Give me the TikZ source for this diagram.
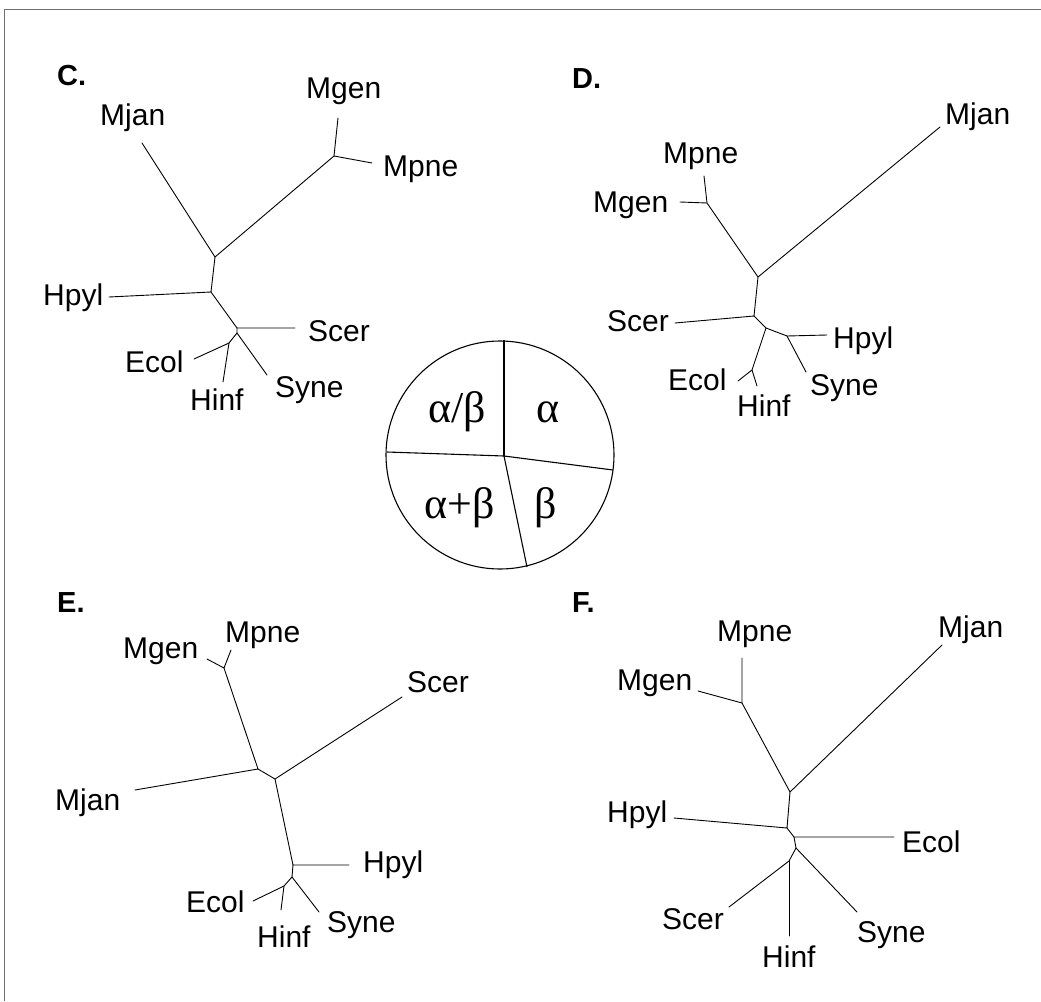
\documentclass[tikz,border=0pt]{standalone}
\usepackage{fontspec}
\newfontfamily\labelsans{Liberation Sans}
\newfontfamily\greekserif{Liberation Serif}
\definecolor{frameline}{RGB}{112,112,112}
\begin{document}
\begin{tikzpicture}[x=1pt,y=-1pt,
  branch/.style={line width=0.9pt, line cap=round, line join=round},
  taxon/.style={anchor=base west, inner sep=0pt, font=\labelsans\fontsize{30}{36}\selectfont},
  panel/.style={anchor=base west, inner sep=0pt, font=\labelsans\bfseries\fontsize{29}{34}\selectfont},
  fold/.style={anchor=base, inner sep=0pt, font=\greekserif\fontsize{44}{50}\selectfont},
  divider/.style={line width=1.1pt}]
\useasboundingbox (0,0) rectangle (1041,1001);
\fill[white] (0,0) rectangle (1041,1001);

% frame along the top and left edges
\coordinate (frBL) at (4.5,1001);
\coordinate (frTL) at (4.5,9.5);
\coordinate (frTR) at (1041,9.5);
\draw[frameline, line width=1.6pt] (frBL) -- (frTL) -- (frTR);

% ---------------- panel C ----------------
\node[panel] (pC) at (57,85) {C.};
\coordinate (cMjan) at (142,143);
\coordinate (cA) at (215,257);
\coordinate (cB) at (334,156);
\coordinate (cMgen) at (338,118);
\coordinate (cMpne) at (372,163);
\coordinate (cN2) at (211,292);
\coordinate (cHpyl) at (109,297);
\coordinate (cN3) at (237,328);
\coordinate (cScer) at (295,328);
\coordinate (cN4) at (237,333);
\coordinate (cSyne) at (267,375);
\coordinate (cN5) at (229,343);
\coordinate (cEcol) at (194,359);
\coordinate (cHinf) at (223,382);
\draw[branch] (cMjan) -- (cA) -- (cB) -- (cMgen);
\draw[branch] (cB) -- (cMpne);
\draw[branch] (cA) -- (cN2) -- (cHpyl);
\draw[branch] (cN2) -- (cN3) -- (cScer);
\draw[branch] (cN3) -- (cN4) -- (cSyne);
\draw[branch] (cN4) -- (cN5) -- (cEcol);
\draw[branch] (cN5) -- (cHinf);
\node[taxon] (cMjanL) at (100,125) {Mjan};
\node[taxon] (cMgenL) at (306,98) {Mgen};
\node[taxon] (cMpneL) at (383,176) {Mpne};
\node[taxon] (cHpylL) at (43,305) {Hpyl};
\node[taxon] (cScerL) at (308,341) {Scer};
\node[taxon] (cEcolL) at (125,372) {Ecol};
\node[taxon] (cHinfL) at (190,410) {Hinf};
\node[taxon] (cSyneL) at (275,397) {Syne};

% ---------------- panel D ----------------
\node[panel] (pD) at (572,88) {D.};
\coordinate (dMjan) at (940,127);
\coordinate (dR) at (758,277);
\coordinate (dM) at (707,203);
\coordinate (dMpne) at (704,176);
\coordinate (dMgen) at (680,202);
\coordinate (dN2) at (754,316);
\coordinate (dScer) at (675,323);
\coordinate (dN3) at (766,328);
\coordinate (dN4) at (787,336);
\coordinate (dHpyl) at (827,335);
\coordinate (dSyne) at (806,372);
\coordinate (dN5) at (752,370);
\coordinate (dEcol) at (738,381);
\coordinate (dHinf) at (757,386);
\draw[branch] (dMjan) -- (dR) -- (dM) -- (dMpne);
\draw[branch] (dM) -- (dMgen);
\draw[branch] (dR) -- (dN2) -- (dScer);
\draw[branch] (dN2) -- (dN3) -- (dN4) -- (dHpyl);
\draw[branch] (dN4) -- (dSyne);
\draw[branch] (dN3) -- (dN5) -- (dEcol);
\draw[branch] (dN5) -- (dHinf);
\node[taxon] (dMjanL) at (945,124) {Mjan};
\node[taxon] (dMpneL) at (663,163) {Mpne};
\node[taxon] (dMgenL) at (593,212) {Mgen};
\node[taxon] (dScerL) at (607,331) {Scer};
\node[taxon] (dHpylL) at (833,348) {Hpyl};
\node[taxon] (dEcolL) at (668,390) {Ecol};
\node[taxon] (dSyneL) at (810,395) {Syne};
\node[taxon] (dHinfL) at (737,416) {Hinf};

% ---------------- panel E ----------------
\node[panel] (pE) at (57,612) {E.};
\coordinate (eM) at (224,668);
\coordinate (eMpne) at (231,650);
\coordinate (eMgen) at (207,659);
\coordinate (eA) at (258,769);
\coordinate (eMjan) at (135,790);
\coordinate (eB) at (275,779);
\coordinate (eScer) at (402,697);
\coordinate (eN3) at (293,865);
\coordinate (eHpyl) at (349,865);
\coordinate (eN4) at (292,877);
\coordinate (eSyne) at (319,912);
\coordinate (eN5) at (284,886);
\coordinate (eEcol) at (253,901);
\coordinate (eHinf) at (281,910);
\draw[branch] (eMpne) -- (eM) -- (eMgen);
\draw[branch] (eM) -- (eA) -- (eMjan);
\draw[branch] (eA) -- (eB) -- (eScer);
\draw[branch] (eB) -- (eN3) -- (eHpyl);
\draw[branch] (eN3) -- (eN4) -- (eSyne);
\draw[branch] (eN4) -- (eN5) -- (eEcol);
\draw[branch] (eN5) -- (eHinf);
\node[taxon] (eMpneL) at (225,642) {Mpne};
\node[taxon] (eMgenL) at (123,658) {Mgen};
\node[taxon] (eScerL) at (407,692) {Scer};
\node[taxon] (eMjanL) at (55,810) {Mjan};
\node[taxon] (eHpylL) at (363,872) {Hpyl};
\node[taxon] (eEcolL) at (186,912) {Ecol};
\node[taxon] (eSyneL) at (327,932) {Syne};
\node[taxon] (eHinfL) at (257,947) {Hinf};

% ---------------- panel F ----------------
\node[panel] (pF) at (572,612) {F.};
\coordinate (fM) at (742,703);
\coordinate (fMpne) at (742,658);
\coordinate (fMgen) at (698,691);
\coordinate (fR) at (790,792);
\coordinate (fMjan) at (942,645);
\coordinate (fN2) at (787,828);
\coordinate (fHpyl) at (674,818);
\coordinate (fN3) at (794,837);
\coordinate (fEcol) at (894,837);
\coordinate (fN4) at (796,848);
\coordinate (fSyne) at (857,912);
\coordinate (fN5) at (789,861);
\coordinate (fScer) at (729,907);
\coordinate (fHinf) at (789,936);
\draw[branch] (fMpne) -- (fM) -- (fMgen);
\draw[branch] (fM) -- (fR) -- (fMjan);
\draw[branch] (fR) -- (fN2) -- (fHpyl);
\draw[branch] (fN2) -- (fN3) -- (fEcol);
\draw[branch] (fN3) -- (fN4) -- (fSyne);
\draw[branch] (fN4) -- (fN5) -- (fScer);
\draw[branch] (fN5) -- (fHinf);
\node[taxon] (fMpneL) at (717,641) {Mpne};
\node[taxon] (fMgenL) at (617,690) {Mgen};
\node[taxon] (fMjanL) at (938,637) {Mjan};
\node[taxon] (fHpylL) at (607,822) {Hpyl};
\node[taxon] (fEcolL) at (902,852) {Ecol};
\node[taxon] (fScerL) at (662,929) {Scer};
\node[taxon] (fSyneL) at (857,942) {Syne};
\node[taxon] (fHinfL) at (762,967) {Hinf};

% ---------------- fold-class pie ----------------
\node[draw, circle, line width=1.1pt, minimum size=228pt, inner sep=0pt] (pie) at (500,455) {};
\coordinate (pc) at (504,456);
\draw[divider] (pc) -- (pie.north -| pc);
\draw[divider] (pc) -- (387,452);
\draw[divider] (pc) -- (613,470);
\draw[divider] (pc) -- (527,567);
\node[fold] (fab) at (457,422) {α/β};
\node[fold] (fa) at (548,422) {α};
\node[fold] (fapb) at (460,518) {α+β};
\node[fold] (fb) at (546,518) {β};
\end{tikzpicture}
\end{document}
